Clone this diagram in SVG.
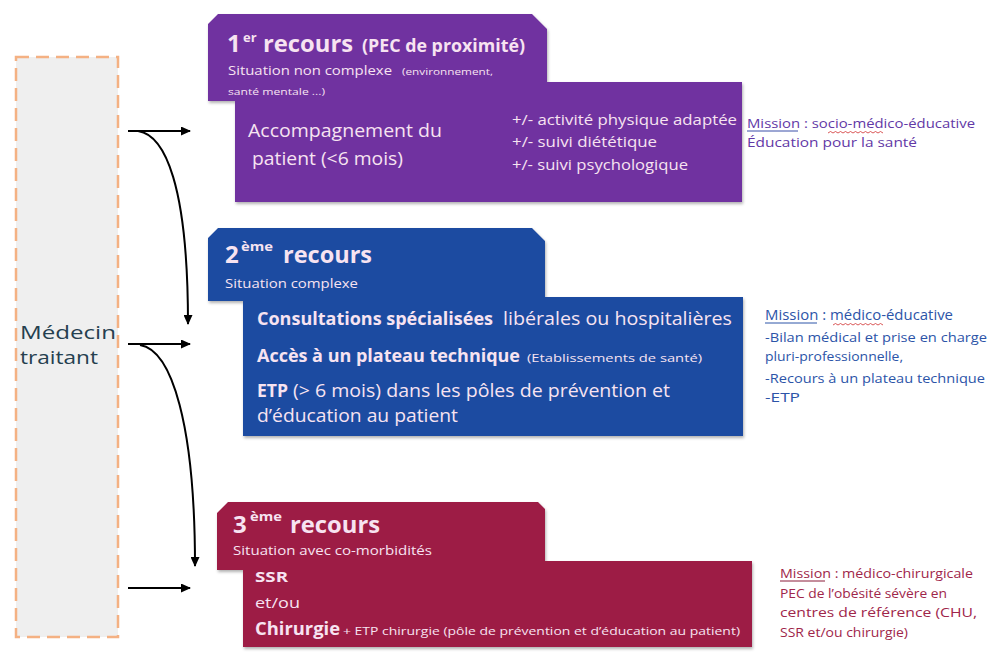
<svg xmlns="http://www.w3.org/2000/svg" width="994" height="652" viewBox="0 0 994 652">
<style>
text{font-family:"Open Sans","Liberation Sans",sans-serif}
.w{fill:#f7e3f1}
.b{font-weight:bold}
.m1{fill:#6238a6}
.m2{fill:#2c54a8}
.m3{fill:#a0264a}
.conn{fill:none;stroke:#000;stroke-width:2}
</style>
<defs>
<marker id="ah" markerUnits="userSpaceOnUse" markerWidth="10" markerHeight="9" refX="9" refY="4.5" orient="auto">
<path d="M0,0 L10,4.5 L0,9 z" fill="#000"/>
</marker>
<filter id="sh" x="-5%" y="-5%" width="110%" height="115%">
<feDropShadow dx="1" dy="2" stdDeviation="1.5" flood-color="#000" flood-opacity="0.3"/>
</filter>
</defs>
<rect width="994" height="652" fill="#fff"/>

<g id="medecin">
<rect x="16" y="57" width="102" height="580" fill="#efefef" stroke="#f4b183" stroke-width="2.5" stroke-dasharray="13 7"/>
<text x="20" y="339" font-size="19" fill="#25404f" textLength="96" lengthAdjust="spacingAndGlyphs">Médecin</text>
<text x="20" y="364" font-size="19" fill="#25404f" textLength="78" lengthAdjust="spacingAndGlyphs">traitant</text>
</g>

<g id="recours1">
<polygon points="208,24 218,14 532,14 547,29 547,82 742,82 742,202 235,202 235,101 208,101" fill="#7030a0" filter="url(#sh)"/>
<text class="w b" x="227" y="52" font-size="24">1</text>
<text class="w b" x="243" y="42" font-size="13">er</text>
<text class="w b" x="263" y="52" font-size="24" textLength="90" lengthAdjust="spacingAndGlyphs">recours</text>
<text class="w b" x="362" y="52" font-size="17" textLength="163" lengthAdjust="spacingAndGlyphs">(PEC de proximité)</text>
<text class="w" x="228" y="75" font-size="12.5" textLength="164" lengthAdjust="spacingAndGlyphs">Situation non complexe</text>
<text class="w" x="402" y="75" font-size="9" textLength="91" lengthAdjust="spacingAndGlyphs">(environnement,</text>
<text class="w" x="228" y="95" font-size="9.5" textLength="97" lengthAdjust="spacingAndGlyphs">santé mentale ...)</text>
<text class="w" x="248" y="137" font-size="19" textLength="194" lengthAdjust="spacingAndGlyphs">Accompagnement du</text>
<text class="w" x="252" y="165" font-size="19" textLength="151" lengthAdjust="spacingAndGlyphs">patient (&lt;6 mois)</text>
<text class="w" x="512" y="125" font-size="15" textLength="225" lengthAdjust="spacingAndGlyphs">+/- activité physique adaptée</text>
<text class="w" x="512" y="147" font-size="15" textLength="145" lengthAdjust="spacingAndGlyphs">+/- suivi diététique</text>
<text class="w" x="512" y="170" font-size="15" textLength="176" lengthAdjust="spacingAndGlyphs">+/- suivi psychologique</text>
</g>

<g id="mission1">
<text class="m1" x="747" y="128" font-size="13.5" textLength="228" lengthAdjust="spacingAndGlyphs">Mission : socio-médico-éducative</text>
<line x1="747" y1="131" x2="798" y2="131" stroke="#3b4fa8" stroke-width="1"/>
<path d="M828,133 l2.5,-1.5 2.5,1.5 2.5,-1.5 2.5,1.5 2.5,-1.5 2.5,1.5 2.5,-1.5 2.5,1.5 2.5,-1.5 2.5,1.5 2.5,-1.5 2.5,1.5 2.5,-1.5 2.5,1.5 2.5,-1.5 2.5,1.5 2.5,-1.5 2.5,1.5 2.5,-1.5 2.5,1.5 2.5,-1.5 2.5,1.5" fill="none" stroke="#d03030" stroke-width="0.8"/>
<text class="m1" x="747" y="147" font-size="13.5" textLength="170" lengthAdjust="spacingAndGlyphs">Éducation pour la santé</text>
</g>

<g id="recours2">
<polygon points="208,238 218,228 532,228 545,241 545,297 743,297 743,436 243,436 243,301 208,301" fill="#1f4ca1" filter="url(#sh)"/>
<text class="w b" x="225" y="263" font-size="24">2</text>
<text class="w b" x="241" y="251" font-size="13" textLength="32" lengthAdjust="spacingAndGlyphs">ème</text>
<text class="w b" x="283" y="263" font-size="24" textLength="89" lengthAdjust="spacingAndGlyphs">recours</text>
<text class="w" x="225" y="288" font-size="12.5" textLength="133" lengthAdjust="spacingAndGlyphs">Situation complexe</text>
<text class="w b" x="257" y="325" font-size="17.5" textLength="236" lengthAdjust="spacingAndGlyphs">Consultations spécialisées</text>
<text class="w" x="503" y="325" font-size="17.5" textLength="229" lengthAdjust="spacingAndGlyphs">libérales ou hospitalières</text>
<text class="w b" x="257" y="362" font-size="17.5" textLength="263" lengthAdjust="spacingAndGlyphs">Accès à un plateau technique</text>
<text class="w" x="527" y="362" font-size="11.5" textLength="175" lengthAdjust="spacingAndGlyphs">(Etablissements de santé)</text>
<text class="w b" x="257" y="397" font-size="17.5" textLength="31" lengthAdjust="spacingAndGlyphs">ETP</text>
<text class="w" x="293" y="397" font-size="17.5" textLength="377" lengthAdjust="spacingAndGlyphs">(&gt; 6 mois) dans les pôles de prévention et</text>
<text class="w" x="257" y="422" font-size="17.5" textLength="201" lengthAdjust="spacingAndGlyphs">d’éducation au patient</text>
</g>

<g id="mission2">
<text class="m2" x="765" y="320" font-size="14" textLength="188" lengthAdjust="spacingAndGlyphs">Mission : médico-éducative</text>
<line x1="765" y1="323" x2="817" y2="323" stroke="#2c54a8" stroke-width="1"/>
<path d="M833,325 l2.5,-1.5 2.5,1.5 2.5,-1.5 2.5,1.5 2.5,-1.5 2.5,1.5 2.5,-1.5 2.5,1.5 2.5,-1.5 2.5,1.5 2.5,-1.5 2.5,1.5 2.5,-1.5 2.5,1.5 2.5,-1.5 2.5,1.5 2.5,-1.5 2.5,1.5 2.5,-1.5 2.5,1.5" fill="none" stroke="#d03030" stroke-width="0.8"/>
<text class="m2" x="765" y="342" font-size="13" textLength="222" lengthAdjust="spacingAndGlyphs">-Bilan médical et prise en charge</text>
<text class="m2" x="765" y="361" font-size="13" textLength="138" lengthAdjust="spacingAndGlyphs">pluri-professionnelle,</text>
<text class="m2" x="765" y="383" font-size="13" textLength="220" lengthAdjust="spacingAndGlyphs">-Recours à un plateau technique</text>
<text class="m2" x="765" y="402" font-size="13" textLength="35" lengthAdjust="spacingAndGlyphs">-ETP</text>
</g>

<g id="recours3">
<polygon points="217,513 228,502 538,502 545,509 545,561 752,561 752,647 243,647 243,570 217,570" fill="#9d1b45" filter="url(#sh)"/>
<text class="w b" x="233" y="533" font-size="24">3</text>
<text class="w b" x="250" y="521" font-size="13" textLength="32" lengthAdjust="spacingAndGlyphs">ème</text>
<text class="w b" x="290" y="533" font-size="24" textLength="90" lengthAdjust="spacingAndGlyphs">recours</text>
<text class="w" x="233" y="555" font-size="12.5" textLength="199" lengthAdjust="spacingAndGlyphs">Situation avec co-morbidités</text>
<text class="w b" x="255" y="582" font-size="15" textLength="33" lengthAdjust="spacingAndGlyphs">SSR</text>
<text class="w" x="255" y="608" font-size="15" textLength="45" lengthAdjust="spacingAndGlyphs">et/ou</text>
<text class="w b" x="255" y="635" font-size="18" textLength="85" lengthAdjust="spacingAndGlyphs">Chirurgie</text>
<text class="w" x="343" y="635" font-size="10.5" textLength="397" lengthAdjust="spacingAndGlyphs">+ ETP chirurgie (pôle de prévention et d’éducation au patient)</text>
</g>

<g id="mission3">
<text class="m3" x="780" y="578" font-size="12.5" textLength="193" lengthAdjust="spacingAndGlyphs">Mission : médico-chirurgicale</text>
<line x1="780" y1="581" x2="825" y2="581" stroke="#8a1a38" stroke-width="1"/>
<text class="m3" x="780" y="598" font-size="12.5" textLength="167" lengthAdjust="spacingAndGlyphs">PEC de l’obésité  sévère en</text>
<text class="m3" x="780" y="617" font-size="12.5" textLength="197" lengthAdjust="spacingAndGlyphs">centres de référence (CHU,</text>
<text class="m3" x="780" y="637" font-size="12.5" textLength="128" lengthAdjust="spacingAndGlyphs">SSR et/ou chirurgie)</text>
</g>

<g id="connectors">
<line class="conn" x1="128" y1="131" x2="190" y2="131" marker-end="url(#ah)"/>
<line class="conn" x1="128" y1="344" x2="190" y2="344" marker-end="url(#ah)"/>
<line class="conn" x1="128" y1="588" x2="190" y2="588" marker-end="url(#ah)"/>
<path class="conn" d="M138,131 C165,135 188,185 188,324" marker-end="url(#ah)"/>
<path class="conn" d="M140,345 C172,350 195,425 195,566" marker-end="url(#ah)"/>
</g>
</svg>
